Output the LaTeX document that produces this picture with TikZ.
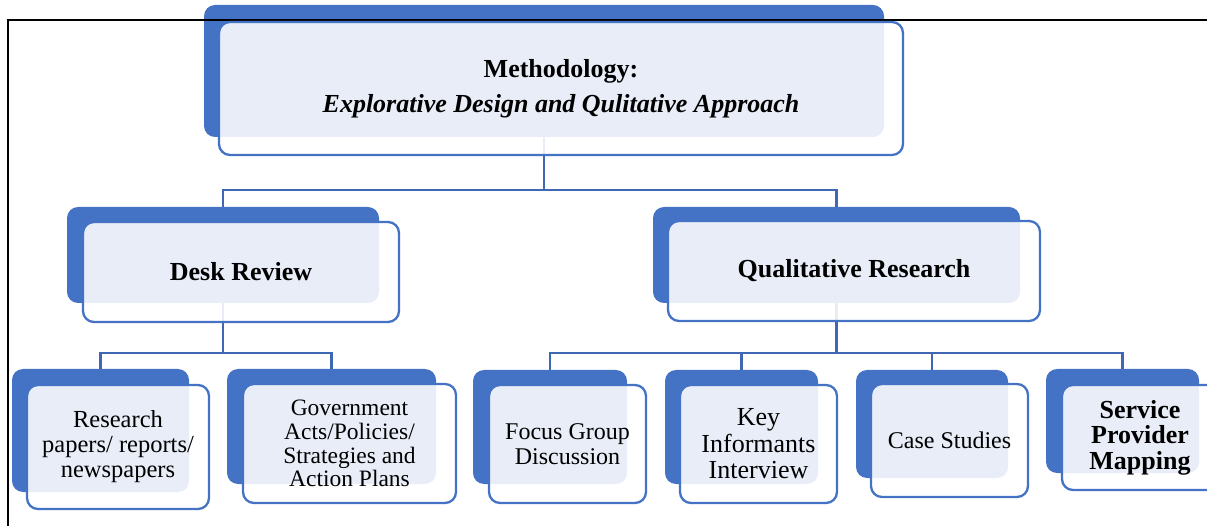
\documentclass[tikz,border=0pt]{standalone}
\usepackage{fontspec}
\setmainfont{Liberation Serif}
\definecolor{accent}{HTML}{4472C4}
\definecolor{connblue}{HTML}{3F67B3}
\begin{document}
\begin{tikzpicture}[x=1pt,y=-1pt,
 backbox/.style={fill=accent, rounded corners=11pt, inner sep=0pt, outer sep=0pt},
 frontbox/.style={draw=accent, line width=2.3pt, fill=white, fill opacity=0.88, text opacity=1,
   rounded corners=11pt, inner sep=0pt, outer sep=0pt, align=center, text=black},
 connector/.style={draw=connblue, line width=2.3pt},
 lvltwo/.style={font=\fontsize{26}{30}\selectfont\bfseries},
 lvlthree/.style={font=\fontsize{24}{25}\selectfont}]
\useasboundingbox (0,0) rectangle (1207,526);

% junction coordinates
\coordinate (j1) at (544,190);
\coordinate (j2) at (223,353);
\coordinate (j3) at (836.5,353);

% connectors (behind boxes)
\draw[connector] (544,137) -- (j1);
\draw[connector] (j1) -| (223,207);
\draw[connector] (j1) -| (836.5,207);
\draw[connector] (223,303) -- (j2);
\draw[connector] (j2) -| (100.5,369);
\draw[connector] (j2) -| (331.5,369);
\draw[connector] (836.5,303) -- (j3);
\draw[connector] (j3) -| (550,370);
\draw[connector] (j3) -| (741.5,370);
\draw[connector] (j3) -| (932,370);
\draw[connector] (j3) -| (1122.5,369);

% back boxes
\node[backbox, minimum width=680pt, minimum height=132pt] (tb) at (544,71) {};
\node[backbox, minimum width=312pt, minimum height=96pt] (db) at (223,255) {};
\node[backbox, minimum width=367pt, minimum height=96pt] (qb) at (836.5,255) {};
\node[backbox, minimum width=177pt, minimum height=123pt] (rb) at (100.5,430.5) {};
\node[backbox, minimum width=209pt, minimum height=115pt] (gb) at (331.5,426.5) {};
\node[backbox, minimum width=154pt, minimum height=114pt] (fb) at (550,427) {};
\node[backbox, minimum width=153pt, minimum height=114pt] (kb) at (741.5,427) {};
\node[backbox, minimum width=152pt, minimum height=108pt] (cb) at (932,424) {};
\node[backbox, minimum width=153pt, minimum height=104pt] (sb) at (1122.5,421) {};

% outer frame
\draw[line width=1.8pt, black] (8,526) -- (8,20) -- (1210,20);

% front boxes
\node[frontbox, minimum width=684pt, minimum height=133pt, font=\fontsize{26}{35}\selectfont\bfseries] (tf) at (561,88.5)
  {Methodology:\\ \textit{Explorative Design and Qulitative Approach}};
\node[frontbox, lvltwo, minimum width=316pt, minimum height=100pt] (df) at (241,272) {Desk Review};
\node[frontbox, lvltwo, minimum width=372pt, minimum height=100pt] (qf) at (854,271) {Qualitative Research};
\node[frontbox, font=\fontsize{24.5}{25}\selectfont, minimum width=182pt, minimum height=124pt] (rf) at (118,447)
  {Research\\papers/ reports/\\newspapers};
\node[frontbox, font=\fontsize{23.5}{23.7}\selectfont, minimum width=213pt, minimum height=119pt] (gf) at (349.5,443.5)
  {Government\\Acts/Policies/\\Strategies and\\Action Plans};
\node[frontbox, lvlthree, minimum width=157pt, minimum height=118pt] (ff) at (567.5,444)
  {Focus Group\\Discussion};
\node[frontbox, font=\fontsize{26}{26.5}\selectfont, minimum width=157pt, minimum height=118pt] (kf) at (758.5,444)
  {Key\\Informants\\Interview};
\node[frontbox, lvlthree, minimum width=157pt, minimum height=113pt] (cf) at (949.5,440.5)
  {Case Studies};
\node[frontbox, font=\fontsize{26}{25.5}\selectfont\bfseries, minimum width=156pt, minimum height=105pt] (sf) at (1140,437.5)
  {Service\\Provider\\Mapping};
\end{tikzpicture}
\end{document}
